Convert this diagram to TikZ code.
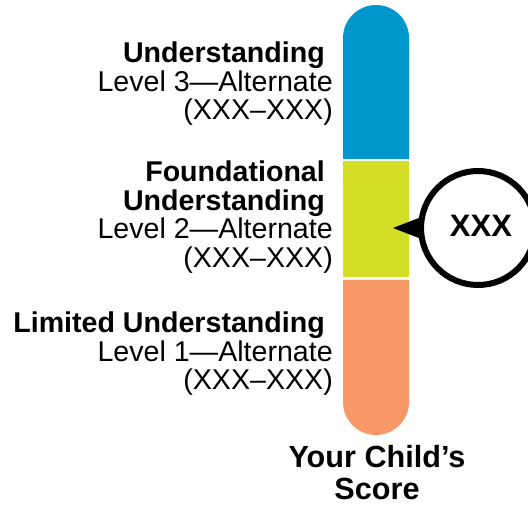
\documentclass[tikz,border=0pt]{standalone}
\usepackage{fontspec}
\setmainfont{Liberation Sans}
\definecolor{bluebar}{RGB}{0,152,204}
\definecolor{greenbar}{RGB}{212,222,38}
\definecolor{orangebar}{RGB}{247,152,102}
\tikzset{
  lab/.style={anchor=base east, inner sep=0pt, font=\fontsize{28.6}{28.6}\selectfont},
  labb/.style={lab, font=\fontsize{28.6}{28.6}\selectfont\bfseries},
  ttl/.style={anchor=base, inner sep=0pt, font=\fontsize{30.6}{30.6}\selectfont\bfseries},
}
\begin{document}
\begin{tikzpicture}[x=1pt,y=1pt]
\useasboundingbox (0,0) rectangle (528,504);
\clip (0,0) rectangle (528,504);
% bar
\fill[bluebar] (343,345) -- (343,466) arc[start angle=180,end angle=0,radius=33] -- (409,345) -- cycle;
\fill[greenbar] (343,227) rectangle (409,343);
\fill[orangebar] (343,224) -- (343,102) arc[start angle=180,end angle=360,radius=33] -- (409,224) -- cycle;
% pointer
\coordinate (tip) at (393,276);
\node[circle, minimum size=114pt, inner sep=0pt] (score) at (478,276) {};
\fill[black] (tip) -- (424,288) -- (424,264) -- cycle;
\draw[line width=6pt, fill=white] (score.center) circle[radius=57];
\node[inner sep=0pt, font=\fontsize{31}{31}\selectfont\bfseries] (xxx) at (481,278) {XXX};
% labels
\node[labb] (u3) at (325,441) {Understanding};
\node[lab] (l3) at (333,412.5) {Level 3—Alternate};
\node[lab] (r3) at (333,384) {(XXX–XXX)};
\node[labb] (f2) at (325,322) {Foundational};
\node[labb] (u2) at (325,293.5) {Understanding};
\node[lab] (l2) at (333,265) {Level 2—Alternate};
\node[lab] (r2) at (333,236.5) {(XXX–XXX)};
\node[labb] (u1) at (325,171) {Limited Understanding};
\node[lab] (l1) at (333,142.5) {Level 1—Alternate};
\node[lab] (r1) at (333,114) {(XXX–XXX)};
\node[ttl] (t1) at (377,37) {Your Child’s};
\node[ttl] (t2) at (377,5) {Score};
\end{tikzpicture}
\end{document}
